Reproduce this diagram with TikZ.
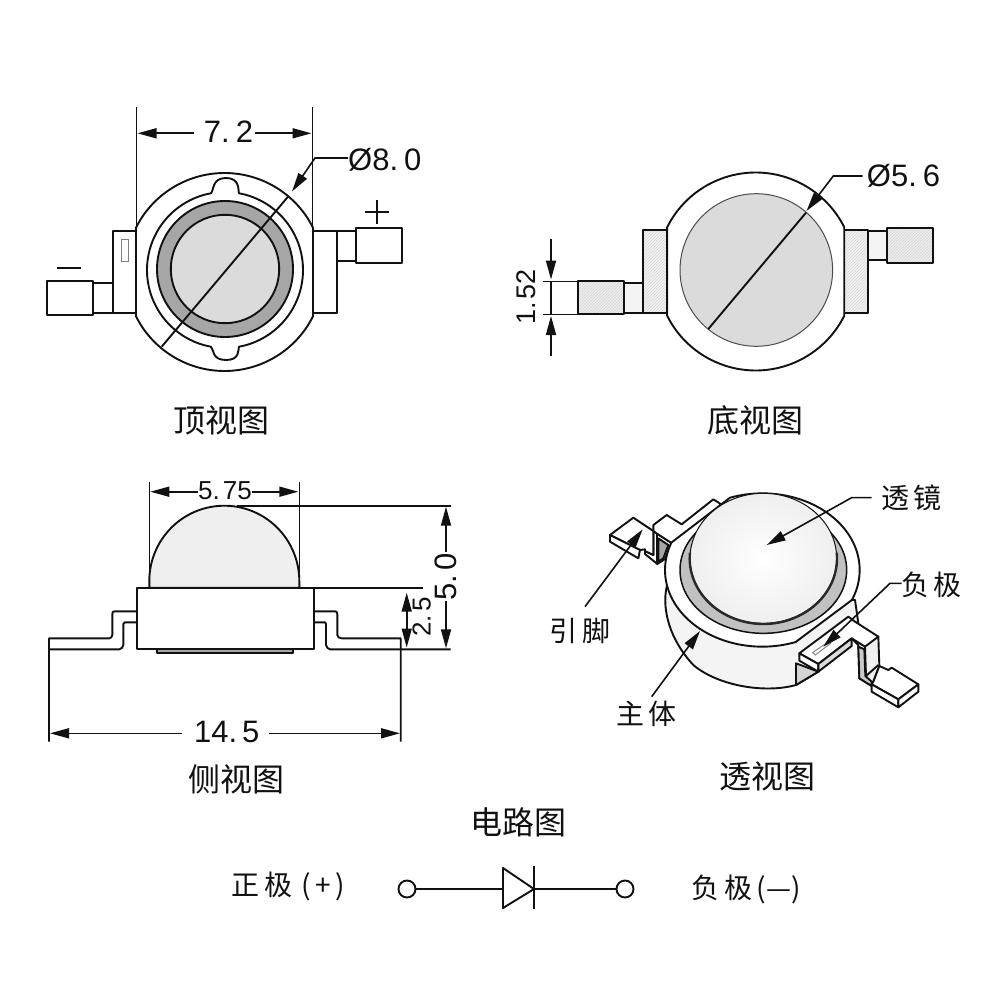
\documentclass[tikz,border=0pt]{standalone}
\usepackage{fontspec}
\setmainfont{Liberation Sans}
\newfontfamily\cjk{Noto Sans CJK SC}
\usetikzlibrary{arrows.meta,patterns}
\definecolor{ink}{HTML}{111111}
\definecolor{ringg}{HTML}{A6A6A6}
\definecolor{lensg}{HTML}{DBDBDB}
\definecolor{hatchg}{HTML}{D4D4D4}
\definecolor{domeg}{HTML}{EFEFEF}
\definecolor{paleg}{HTML}{F4F4F4}
\tikzset{
  thick line/.style={draw=ink,line width=1.9pt,line join=round},
  dim line/.style={draw=ink,line width=1.6pt},
  tri/.style={-{Triangle[length=19pt,width=10pt]},draw=ink,line width=1.6pt},
  num/.style={font=\fontsize{31}{32}\selectfont,text=ink,inner sep=0pt},
  numsmall/.style={font=\fontsize{26}{27}\selectfont,text=ink,inner sep=0pt},
  title/.style={font=\cjk\fontsize{32}{34}\selectfont,text=ink,inner sep=0pt},
  callout/.style={font=\cjk\fontsize{28}{30}\selectfont,text=ink,inner sep=0pt},
  hatched/.style={pattern=north east lines,pattern color=hatchg,preaction={fill=#1}},
  term/.style={circle,draw=ink,line width=1.9pt,fill=white,minimum size=17pt,inner sep=0pt},
}
\begin{document}
\begin{tikzpicture}[x=1pt,y=-1pt]
\useasboundingbox[fill=white] (0,0) rectangle (1000,1000);

%% ---------- TOP VIEW ----------
\draw[thick line,fill=white] (112.7,230.7) rectangle (136.5,312.7);
\draw[draw=gray,line width=1pt] (121.7,239) rectangle (128.7,261);
\draw[thick line,fill=white] (93.3,282.7) rectangle (112.7,312.7);
\draw[thick line,fill=white] (46.7,281) rectangle (93.3,315.3);
\draw[thick line] (57,267.7) -- (80.7,267.7);
\draw[thick line,fill=white] (312.5,230.7) rectangle (336.7,312.7);
\draw[thick line,fill=white] (336.7,231.3) rectangle (356,260.7);
\draw[thick line,fill=white] (356,228.3) rectangle (402.3,262.7);
\draw[thick line] (365,212.3) -- (389,212.3) (377,200) -- (377,224.5);
\draw[thick line,fill=white]
  plot[domain=26.6:153.4,samples=60] ({224.5+99*cos(\x)},{272+99*sin(\x)}) --
  plot[domain=206.6:333.4,samples=60] ({224.5+99*cos(\x)},{272+99*sin(\x)}) -- cycle;
\draw[thick line,fill=white]
  plot[domain=100.3:259.7,samples=60] ({225+78*cos(\x)},{270+78*sin(\x)})
  .. controls (214,190) and (212,178) .. (226,178)
  .. controls (240,178) and (238,190) .. (239,193.3) --
  plot[domain=280.3:439.7,samples=60] ({225+78*cos(\x)},{270+78*sin(\x)})
  .. controls (238,350) and (240,360) .. (226,360)
  .. controls (212,360) and (214,350) .. (211,346.7) -- cycle;
\draw[thick line,fill=ringg] (225,269) circle[radius=68];
\draw[thick line,fill=lensg] (225,269) circle[radius=54.2];
\draw[thick line] (288,196.7) -- (161.7,346.7);
\draw[dim line] (136.5,107) -- (136.5,227) (312.5,107) -- (312.5,227);
\node[num] (d72) at (228.5,132) {7.\kern6pt 2};
\coordinate (d72l) at (137.5,133.3);
\coordinate (d72r) at (311.5,133.3);
\draw[tri] (194,133.3) -- (d72l);
\draw[tri] (255,133.3) -- (d72r);
\node[num,anchor=west] (d80) at (348,160) {Ø8.\kern6pt 0};
\coordinate (d80k) at (315,158);
\coordinate (d80t) at (292,191.5);
\draw[tri] (d80.west |- d80k) -- (d80k) -- (d80t);
\node[title] (t1) at (221,420) {顶视图};

%% ---------- BOTTOM VIEW ----------
\draw[thick line,hatched=paleg] (643.3,230) rectangle (667.3,312.7);
\draw[thick line,fill=paleg] (624,282.7) rectangle (643.3,312.7);
\draw[thick line,hatched=domeg] (578.3,281.3) rectangle (624,314.3);
\draw[thick line,hatched=paleg] (844.3,230) rectangle (868.3,312.7);
\draw[thick line,fill=paleg] (868.3,230.7) rectangle (887.3,260);
\draw[thick line,hatched=domeg] (887.3,228.3) rectangle (933.3,262.7);
\draw[thick line,fill=white]
  plot[domain=26.6:153.4,samples=60] ({755.7+99*cos(\x)},{271.5+99*sin(\x)}) --
  plot[domain=206.6:333.4,samples=60] ({755.7+99*cos(\x)},{271.5+99*sin(\x)}) -- cycle;
\draw[draw=ink!75,line width=1pt,fill=lensg] (756.3,270) circle[radius=76.3];
\draw[thick line] (806,212.7) -- (708.3,329);
\node[num,anchor=west] (d56) at (866.7,176) {Ø5.\kern6pt 6};
\coordinate (d56k) at (833.3,176);
\coordinate (d56t) at (806.5,211);
\draw[tri] (d56.west) ++(-4,0) -- (d56k) -- (d56t);
\draw[dim line] (542.7,281.3) -- (578.3,281.3) (542.7,314.3) -- (578.3,314.3);
\draw[dim line] (551,281.3) -- (551,314.3);
\coordinate (h1a) at (551,239); \coordinate (h1b) at (551,279.5);
\coordinate (h2a) at (551,356); \coordinate (h2b) at (551,316);
\draw[tri] (h1a) -- (h1b);
\draw[tri] (h2a) -- (h2b);
\node[num,rotate=90,font=\fontsize{27}{28}\selectfont] (d152) at (526,297) {1.\kern3pt 52};
\node[title] (t2) at (755,420) {底视图};

%% ---------- SIDE VIEW ----------
\draw[thick line,fill=domeg] (149.3,587.7) -- (149.3,580.7) --
  plot[domain=180:360,samples=60] ({224.3+75*cos(\x)},{581+75.3*sin(\x)})
  -- (299.3,587.7) -- cycle;
\draw[thick line,fill=white] (136.7,587.7) rectangle (314,649.3);
\draw[thick line,fill=ringg] (156.7,649.3) rectangle (293.3,653.3);
\draw[thick line]
  (136.7,611.3) -- (115,611.3) .. controls (113,611.3) and (112.3,612) .. (112.3,614)
  -- (112.3,635) .. controls (112,637) and (111,638.3) .. (109.3,638.3) -- (49,638.3)
  -- (49,741.7);
\draw[thick line]
  (136.7,622.3) -- (125,622.3) .. controls (124,622.3) and (123.3,623) .. (123.3,624)
  -- (123.3,645) .. controls (123,647) and (121.5,649.3) .. (119.3,649.3) -- (49,649.3);
\draw[thick line]
  (314,611.3) -- (335,611.3) .. controls (336.5,611.3) and (337.3,612) .. (337.3,614)
  -- (337.3,635) .. controls (337.5,637) and (339,638.3) .. (341.7,638.3) -- (400.7,638.3)
  -- (400.7,741.7);
\draw[thick line]
  (314,622.3) -- (325,622.3) .. controls (325.6,622.3) and (326,623) .. (326,624)
  -- (326,645) .. controls (326.5,647) and (328,649.3) .. (330,649.3) -- (450.7,649.3);
\draw[dim line] (149.3,482.3) -- (149.3,587.7) (299.3,482.3) -- (299.3,587.7);
\draw[dim line] (236.7,505.7) -- (450.7,505.7);
\draw[dim line] (314,587.7) -- (422.7,587.7);
\node[numsmall] (d575) at (225,491) {5.\kern3pt 75};
\coordinate (w1) at (150.3,491.7); \coordinate (w2) at (298.3,491.7);
\draw[tri] (d575.west |- w1) -- (w1);
\draw[tri] (d575.east |- w2) -- (w2);
\node[num,rotate=90] (d50) at (446,577) {5.\kern4pt 0};
\coordinate (v1) at (446,506.7); \coordinate (v2) at (446,648.3);
\draw[tri] (446,552) -- (v1);
\draw[tri] (446,601) -- (v2);
\node[num,rotate=90,font=\fontsize{26}{27}\selectfont] (d25) at (421.7,617) {2.\kern3pt 5};
\coordinate (u1) at (406.7,592.7); \coordinate (u2) at (406.7,647.5);
\draw[tri] (406.7,620) -- (u1);
\draw[tri] (406.7,620) -- (u2);
\node[num] (d145) at (226.7,732) {14.\kern5pt 5};
\coordinate (x1) at (50,733.3); \coordinate (x2) at (400,733.3);
\draw[tri] (181.7,733.3) -- (x1);
\draw[tri] (269.3,733.3) -- (x2);
\node[title] (t3) at (236,779) {侧视图};

%% ---------- PERSPECTIVE VIEW ----------
\begin{scope}[shift={(530,470)},x=0.33333pt,y=-0.33333pt]
  % body wall
  \draw[thick line,fill=paleg] (410,350) .. controls (395,420) and (420,510) .. (490,585)
     .. controls (560,645) and (700,672) .. (798,645) -- (865,605) -- (985,460) -- (975,390) -- cycle;
  \draw[thick line,fill=hatchg] (798,580) -- (865,605) -- (798,645) -- cycle;
  % left lead
  \draw[thick line,fill=white] (370,190) -- (370,165) -- (410,135) -- (455,163) -- (550,88) -- (572,102) -- (500,210) -- (425,220) -- (382,192) -- cycle;
  \draw[thick line,fill=white] (345,243) -- (345,252) -- (382,282) -- (405,267) -- (425,220) -- (382,192) -- (370,183) -- (370,255) -- cycle;
  \draw[thick line,fill=gray!70] (385,205) -- (415,225) -- (400,265) -- (385,275) -- cycle;
  \draw[thick line] (382,192) -- (382,282);
  \draw[thick line,fill=white] (240,195) -- (310,143) -- (370,183) -- (370,255) -- (345,243) -- (345,238) -- (330,240) -- cycle;
  \draw[thick line,fill=white] (240,195) -- (240,215) -- (325,265) -- (330,240) -- cycle;
  % lid with its two flats
  \draw[thick line,fill=white]
     plot[domain=70:201,samples=70] ({697+292*cos(\x)},{300+230*sin(\x)}) --
     plot[domain=250.6:383,samples=70] ({697+292*cos(\x)},{300+230*sin(\x)}) -- cycle;
  % ring and dome
  \draw[draw=ink,line width=1.5pt,fill=ringg!70] (700,300) ellipse[x radius=250,y radius=190];
  \shade[inner color=white,outer color=domeg] (700,265) ellipse[x radius=220,y radius=195];
  \draw[draw=ink,line width=1pt] (700,265) ellipse[x radius=220,y radius=195];
  \draw[draw=ink!90,line width=2.4pt] plot[domain=-5:185,samples=70] ({700+221*cos(\x)},{265+197*sin(\x)});
  % right lead
  \draw[thick line,fill=domeg] (965,505) -- (985,525) -- (988,625) -- (1025,648) -- (1048,588) -- (1045,500) -- cycle;
  \draw[thick line,fill=ringg!60] (985,530) -- (1003,538) -- (1006,618) -- (1025,635) -- (1025,648) -- (988,625) -- cycle;
  \draw[thick line] (1005,530) -- (1008,618) -- (1045,585);
  \draw[thick line,fill=white] (808,550) -- (955,440) -- (975,455) -- (1045,500) -- (1005,530) -- (965,505) -- (865,582) -- cycle;
  \draw[thick line,fill=white] (808,550) -- (808,572) -- (865,605) -- (865,582) -- cycle;
  \draw[thick line,fill=lensg] (865,582) -- (865,605) -- (965,528) -- (965,505) -- cycle;
  \draw[thick line,fill=white] (1025,643) -- (1030,635) -- (1048,588) -- (1075,600) -- (1085,593) -- (1165,643) -- (1105,688) -- cycle;
  \draw[thick line,fill=white] (1025,643) -- (1025,665) -- (1105,712) -- (1105,688) -- cycle;
  \draw[thick line,fill=white] (1105,688) -- (1105,712) -- (1165,665) -- (1165,643) -- cycle;
  \draw[draw=gray,line width=0.9pt,fill=white] (848,548) -- (895,515) -- (902,520) -- (856,555) -- cycle;
  % labels
  \node[callout] (lens) at (1145,83) {透\,镜};
  \coordinate (lensk) at (965,83); \coordinate (lenst) at (710,225);
  \draw[tri] (1025,83) -- (lensk) -- (lenst);
  \node[callout] (neg) at (1205,345) {负\,极};
  \coordinate (negk) at (1080,340); \coordinate (negt) at (880,530);
  \draw[tri] (1115,340) -- (negk) -- (negt);
  \node[callout] (pin) at (150,483) {引\,脚};
  \coordinate (pina) at (165,410); \coordinate (pint) at (338,178);
  \draw[tri] (pina) -- (pint);
  \node[callout] (bod) at (350,733) {主\,体};
  \coordinate (boda) at (365,680); \coordinate (bodt) at (510,483);
  \draw[tri] (boda) -- (bodt);
\end{scope}
\node[title] (t4) at (767,776) {透视图};

%% ---------- CIRCUIT ----------
\node[title] (t5) at (518.5,822) {电路图};
\node[callout] (posl) at (288.5,886) {正\,极\,\,(\,+\,)};
\node[callout] (negl) at (746,889) {负\,极\,(—)};
\node[term] (ta) at (407,889) {};
\node[term] (tb) at (625,889) {};
\coordinate (da) at (503,889);
\coordinate (dk) at (534,889);
\draw[thick line] (ta) -- (da);
\draw[thick line] (dk) -- (tb);
\draw[thick line,fill=white] (503,868) -- (503,908) -- (dk) -- cycle;
\draw[thick line] (534,866) -- (534,909);
\end{tikzpicture}
\end{document}
